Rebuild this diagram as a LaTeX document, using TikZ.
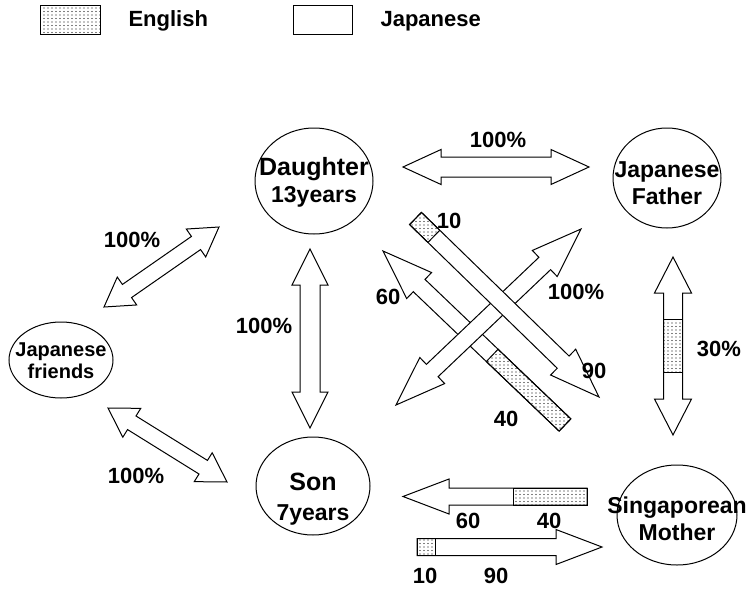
\documentclass[tikz,border=0pt]{standalone}
\usepackage{fontspec}
\setmainfont{Liberation Sans}
\usetikzlibrary{calc,patterns}

\pgfdeclarepatternformonly{stipple}{\pgfqpoint{-1pt}{-1pt}}{\pgfqpoint{1pt}{1pt}}{\pgfqpoint{4pt}{3.5pt}}{%
  \pgfpathcircle{\pgfqpoint{0pt}{0pt}}{0.55pt}\pgfusepath{fill}}

% direction and length from one named point to another
\newcommand\getdir[2]{%
  \path let \p1=(#1), \p2=(#2),
    \n1={atan2(\y2-\y1,\x2-\x1)}, \n2={veclen(\x2-\x1,\y2-\y1)} in
    \pgfextra{\pgfmathsetmacro\tmpang{\n1}\global\let\arrang\tmpang
              \pgfmathsetmacro\tmplen{\n2}\global\let\arrlen\tmplen};}

% [english part a/b]{from}{to}{shaft}{head}{head length}
\newcommand\twoway[6][]{%
  \getdir{#2}{#3}%
  \begin{scope}[shift={(#2)},rotate=\arrang]
    \draw[blk] (0,0) -- (#6,#5) -- (#6,#4) -- (\arrlen-#6,#4) -- (\arrlen-#6,#5) -- (\arrlen,0)
      -- (\arrlen-#6,-#5) -- (\arrlen-#6,-#4) -- (#6,-#4) -- (#6,-#5) -- cycle;
    \ifx\relax#1\relax\else
      \foreach \a/\b in {#1} \draw[eng] (\a*\arrlen,-#4) rectangle (\b*\arrlen,#4);
    \fi
  \end{scope}}
\newcommand\oneway[6][]{%
  \getdir{#2}{#3}%
  \begin{scope}[shift={(#2)},rotate=\arrang]
    \draw[blk] (0,#4) -- (\arrlen-#6,#4) -- (\arrlen-#6,#5) -- (\arrlen,0)
      -- (\arrlen-#6,-#5) -- (\arrlen-#6,-#4) -- (0,-#4) -- cycle;
    \ifx\relax#1\relax\else
      \foreach \a/\b in {#1} \draw[eng] (\a*\arrlen,-#4) rectangle (\b*\arrlen,#4);
    \fi
  \end{scope}}

\begin{document}
\begin{tikzpicture}[x=1pt,y=-1pt,
    ring/.style={draw,line width=1pt},
    who/.style={align=center,inner sep=0pt,font=\bfseries\fontsize{23}{27}\selectfont},
    pct/.style={inner sep=0pt,font=\bfseries\fontsize{22}{22}\selectfont},
    blk/.style={draw,fill=white,line width=1pt,line join=miter},
    eng/.style={draw,line width=1pt,pattern=stipple}]
  \useasboundingbox (0,0) rectangle (747,589);

  % legend
  \node[eng,minimum width=60,minimum height=29,anchor=north west] (engbox) at (40,5) {};
  \node[anchor=base west,font=\bfseries\fontsize{22}{22}\selectfont] (englab) at (125,26) {English};
  \node[ring,minimum width=59,minimum height=29,anchor=north west] (jpnbox) at (293,5) {};
  \node[anchor=base west,font=\bfseries\fontsize{22}{22}\selectfont] (jpnlab) at (377,26) {Japanese};

  % people
  \draw[ring] (314,181) ellipse [x radius=59,y radius=53];
  \node[who] (dau) at (314,182) {{\fontsize{25}{27}\selectfont Daughter}\\13years};
  \draw[ring] (667,178) ellipse [x radius=54,y radius=50];
  \node[who] (fat) at (667,183) {Japanese\\Father};
  \draw[ring] (61,360) ellipse [x radius=52,y radius=38];
  \node[who,font=\bfseries\fontsize{20}{22}\selectfont] (frd) at (61,361) {Japanese\\friends};
  \draw[ring] (313,486) ellipse [x radius=57,y radius=49];
  \node[who,font=\bfseries\fontsize{23}{30}\selectfont] (son) at (313,499) {{\fontsize{25}{30}\selectfont Son}\\7years};
  \draw[ring] (677,515) ellipse [x radius=60,y radius=50];
  \node[who] (mot) at (677,519) {Singaporean\\Mother};

  % arrow ends
  \coordinate (dfL) at (403,167);
  \coordinate (dfR) at (589,167);
  \coordinate (dsT) at (310,249);
  \coordinate (dsB) at (310,428);
  \coordinate (fdL) at (104,307);
  \coordinate (fdR) at (219,227);
  \coordinate (fsL) at (108,408);
  \coordinate (fsR) at (227,482);
  \coordinate (fmT) at (673,257);
  \coordinate (fmB) at (673,435);
  \coordinate (mdTail) at (565,425);
  \coordinate (mdTip) at (383,251);
  \coordinate (sfL) at (396,405);
  \coordinate (sfR) at (581,229);
  \coordinate (dmTail) at (415.5,218.5);
  \coordinate (dmTip) at (599,397);
  \coordinate (msTail) at (587,496.5);
  \coordinate (msTip) at (403,496.5);
  \coordinate (smTail) at (417,547);
  \coordinate (smTip) at (602,547);

  \twoway{dfL}{dfR}{10}{17.5}{38}
  \twoway{dsT}{dsB}{10}{18}{36}
  \twoway{fdL}{fdR}{8}{17}{28}
  \twoway{fsL}{fsR}{8}{17}{28}
  \twoway[0.35/0.65]{fmT}{fmB}{9.5}{18.5}{36}
  \oneway[0/0.4]{mdTail}{mdTip}{8.5}{18}{50}
  \twoway{sfL}{sfR}{8.5}{18}{50}
  \oneway[0/0.1]{dmTail}{dmTip}{8.5}{18}{50}
  \oneway[0/0.4]{msTail}{msTip}{8.5}{17.5}{46}
  \oneway[0/0.1]{smTail}{smTip}{8.5}{17.5}{46}

  % shares
  \node[pct] (pdf) at (498,140) {100\%};
  \node[pct] (pds) at (264,326) {100\%};
  \node[pct] (pfd) at (132,240) {100\%};
  \node[pct] (pfs) at (136,476) {100\%};
  \node[pct] (pfm) at (719,349) {30\%};
  \node[pct] (pdm1) at (449,221) {10};
  \node[pct] (pdm2) at (594,371) {90};
  \node[pct] (pmd1) at (388,297) {60};
  \node[pct] (pmd2) at (506,419) {40};
  \node[pct] (psf) at (576,292) {100\%};
  \node[pct] (pms1) at (468,521) {60};
  \node[pct] (pms2) at (549,521) {40};
  \node[pct] (psm1) at (425,576) {10};
  \node[pct] (psm2) at (496,576) {90};
\end{tikzpicture}
\end{document}
